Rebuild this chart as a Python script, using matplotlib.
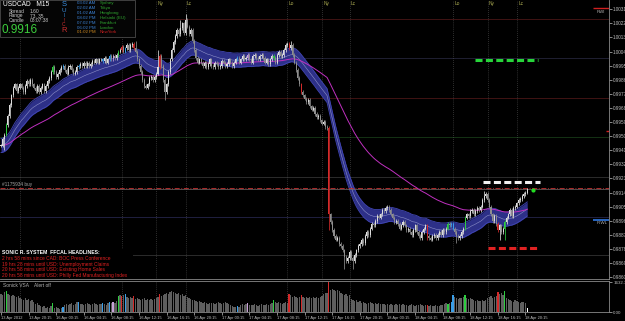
import numpy as np
import pandas as pd
import matplotlib
matplotlib.use("Agg")
import matplotlib.pyplot as plt
from matplotlib.patches import Rectangle

plt.rcParams['font.family'] = ['Liberation Sans', 'DejaVu Sans']

# USDCAD M15 closes, in 1e-4 price units, one per bar
close_x1e4 = [
    9944, 9948, 9951,
    9957, 9963, 9970, 9976, 9981,
    9983, 9979, 9981, 9983,
    9981, 9978, 9982, 9985, 9983, 9986, 9983, 9981,
    9979, 9982, 9978, 9981, 9983, 9979, 9982, 9985,
    9987, 9991, 9994,
    9991, 9988, 9990, 9992,
    9994, 9995, 9992, 9990, 9994, 9995, 9992, 9990, 9991, 9994, 9995, 9996,
    9995, 9997, 9995, 9997, 9995, 9996, 9998, 9997, 9999, 9997, 9999,
    9999, 9998, 10000, 9997, 9999, 10001, 9999, 10001, 10000, 10002, 10004,
    10005, 10007, 10004, 10006, 10008, 10005, 10008, 10009, 10006, 10004,
    9999, 9995, 9991, 9986, 9982, 9981, 9983,
    9987, 9988, 9986, 9988, 9990,
    9994, 10001, 9995, 9986, 9978, 9983,
    9991, 9999, 10005, 10010,
    10014, 10018, 10015, 10019, 10022, 10016, 10024, 10020, 10015, 10018,
    10011, 10005, 10000, 9997, 9999,
    9997, 9995, 9997, 9994, 9996, 9999, 9995, 9994, 9997, 9996,
    9994, 9995, 9998, 9997, 9995, 9996, 9999, 9997, 9995, 9997,
    9999, 10000, 9997, 9999, 10001, 9999, 10000, 10002, 9999, 9997,
    10001, 10002, 10000, 9999, 10001, 10002, 10000, 9997, 9999,
    9996, 9999, 10001, 10000, 9997, 10002, 10004, 10001, 10002,
    10005, 10008, 10009, 10006, 10008,
    10002, 9997, 9992, 9987, 9983, 9978, 9976,
    9974, 9972, 9973, 9969, 9967, 9968, 9964, 9962, 9963, 9960, 9958, 9959, 9956, 9955,
    9900,
    9895, 9890, 9886, 9884, 9885, 9881, 9880,
    9877, 9873, 9870, 9872, 9876, 9872, 9870, 9874, 9877,
    9880, 9881, 9884, 9882, 9886, 9889, 9887, 9891, 9894, 9893, 9896, 9899, 9898, 9900,
    9903, 9902, 9904, 9905, 9903,
    9900, 9898, 9895, 9896, 9894, 9891, 9893, 9895, 9893, 9890,
    9891, 9889, 9887, 9890, 9893, 9889, 9886, 9885, 9889, 9891, 9893, 9886,
    9885, 9884, 9886, 9887, 9885, 9887, 9889, 9887, 9890, 9889, 9891, 9894,
    9893, 9894, 9891, 9889, 9886,
    9885, 9886, 9889, 9891, 9898,
    9900, 9899, 9902, 9903, 9900, 9902, 9904, 9903, 9905, 9909,
    9912, 9913, 9909, 9905,
    9900, 9896, 9899, 9894, 9890, 9893, 9889, 9891, 9895, 9898,
    9900, 9903, 9899, 9904,
    9905, 9907, 9909, 9910, 9912, 9913, 9914, 9916,
]

# tick volume per bar
volume = [
    980, 930, 1080, 1130,
    975, 920, 870, 915, 860, 810, 870, 760,
    705, 650, 760, 655, 700, 600, 650, 540,
    430, 490, 380, 325, 270, 330, 215, 270, 220, 325,
    490,
    215, 270, 220, 165, 215,
    280,
    380, 430, 375, 435, 490, 380, 430, 540,
    545, 430,
    430, 380, 435, 490, 430, 380, 435, 485, 430, 380, 430,
    435, 490, 430, 380, 490, 545,
    490, 540, 485, 600,
    870,
    920, 865, 925, 975, 810,
    760, 815, 755, 870,
    705, 760, 700, 650, 705, 760, 650, 700, 650, 705, 645, 700, 760,
    815, 975,
    865, 920, 975, 1030, 980, 1085, 1135, 1080,
    1030, 975, 1025, 920, 970, 865, 915, 810,
    760, 700, 650, 655, 595, 540, 600, 545, 490, 540, 485, 430, 490,
    485, 490, 430, 485, 540, 490, 430, 485, 545, 490, 430, 380, 325, 270,
    270, 330, 275,
    380, 430, 375, 435, 490, 380, 385,
    380, 430, 375, 325, 380, 435, 380, 375, 430, 380, 435, 490,
    650,
    545, 490, 540, 485, 430, 490, 540, 485,
    975, 920,
    810, 870, 815, 760, 815,
    925,
    810, 760, 815, 755, 810, 760, 815, 755, 810, 760, 815, 870,
    975, 1030, 1025,
    1632,
    1190, 1245, 1185, 1135, 1190, 1130,
    1030, 975, 920, 980, 865, 920,
    705, 650, 595, 650, 540, 595,
    485, 540, 490, 430, 485, 545, 490, 430, 485, 435, 490, 430, 435,
    430, 380, 435, 375, 430, 380, 375, 435, 380, 430, 375, 435, 380,
    375, 325, 380, 430, 375, 325, 380, 375, 430, 380, 325, 380, 380,
    325, 380, 325, 330, 375, 325, 330, 380, 375,
    430, 490, 435,
    490, 545, 920,
    810, 760, 705, 755, 760,
    810, 920,
    760, 705, 755, 700,
    650, 595, 650, 600, 595, 650, 600, 655,
    760, 810, 865, 760, 815, 870,
    1080,
    975, 1030,
    920,
    1135,
    760, 705, 650, 595, 540, 650, 595, 540, 485,
    540, 545, 490,
    215,
]
assert len(close_x1e4) == 306 and len(volume) == 306

# long wicks (bar index -> price x1e4)
spike_hi = {78: 10011, 91: 10005, 104: 10024, 107: 10028, 168: 10011, 280: 9915}
spike_lo = {2: 9941, 95: 9973, 190: 9890, 199: 9865, 204: 9865, 247: 9884,
            264: 9882, 289: 9884, 292: 9884}

# VSA signal bars
sig_green = [3, 30, 68, 158, 259, 269, 292]
sig_red = [70, 77, 92, 167, 174, 190, 247, 288]
sig_blue = [36, 45, 59, 63, 72, 137, 261, 262]
sig_pink = [65, 143]

price_ticks = [1.00310, 1.00220, 1.00130, 1.00040, 0.99950, 0.99860, 0.99770,
               0.99680, 0.99590, 0.99500, 0.99410, 0.99320, 0.99230, 0.99140,
               0.99050, 0.98960, 0.98870, 0.98780, 0.98690, 0.98600]

time_bars = [0, 16, 32, 48, 64, 80, 96, 112, 128, 144, 160, 176, 192, 208,
             224, 240, 256, 272, 288, 304]
time_labels = ["13 Apr 2012", "13 Apr 20:15", "16 Apr 00:15", "16 Apr 04:15",
               "16 Apr 08:15", "16 Apr 12:15", "16 Apr 16:15", "16 Apr 20:15",
               "17 Apr 00:15", "17 Apr 04:15", "17 Apr 08:15", "17 Apr 12:15",
               "17 Apr 16:15", "17 Apr 20:15", "18 Apr 00:15", "18 Apr 04:15",
               "18 Apr 08:15", "18 Apr 12:15", "18 Apr 16:15", "18 Apr 20:15"]

# session lines; the first two labels sit under the info box and are not shown
session_bars = [11, 70, 90, 107, 166, 186, 202, 262, 282, 299]
session_names = [None, None, "Ny", "Lc", "Lo", "Ny", "Lc", "Lo", "Ny", "Lc"]

levels = [1.00248, 0.99999, 0.99744, 0.99495, 0.99239, 0.98984, 0.98741]
level_colors = ["#4a1616", "#24243a", "#4a1616", "#173a17", "#333333", "#24244a", "#333333"]

order_price = 0.99169
bid_price = 0.99160
tp_green, tp_white, sl_red = 0.99986, 0.99209, 0.98786

headlines = ["2 hrs 58 mins since CAD: BOC Press Conference",
             "19 hrs 28 mins until USD: Unemployment Claims",
             "20 hrs 58 mins until USD: Existing Home Sales",
             "20 hrs 58 mins until USD: Philly Fed Manufacturing Index"]

cities = ["Sydney", "Tokyo", "Hongkong", "Helsinki (EU)", "Frankfurt", "London", "NewYork"]
city_times = ["03:02 AM", "02:02 AM", "01:02 AM", "08:02 PM", "07:02 PM", "06:02 PM", "01:02 PM"]

closes = np.array(close_x1e4) / 1e4
idx = np.arange(len(closes))
opens = np.r_[closes[0], closes[:-1]]
hi = np.maximum(opens, closes) + 0.00012
lo = np.minimum(opens, closes) - 0.00012
for k, v in spike_hi.items():
    hi[k] = v / 1e4
for k, v in spike_lo.items():
    lo[k] = v / 1e4

cols = np.where(closes >= opens, "#dcdcdc", "#8e8e8e").astype(object)
vcols = np.array(["#5e5e5e"] * len(idx), dtype=object)
for lst, c in [(sig_green, "#2ecc40"), (sig_red, "#d42a2a"),
               (sig_blue, "#3a9ee8"), (sig_pink, "#c8a0d8")]:
    for k in lst:
        cols[k] = c
        vcols[k] = c
vcols[305] = "#ffffff"

fig = plt.figure(figsize=(6.25, 3.21), dpi=100, facecolor="black")

ax = fig.add_axes([0, 42 / 321, 609 / 625, 279 / 321], facecolor="black")
ax.set_xlim(-0.58, 352.4)
ax.set_ylim(0.985878, 1.003694)

for lv, lc in zip(levels, level_colors):
    ax.axhline(lv, color=lc, lw=0.6, zorder=1)

for b in session_bars:
    ax.axvline(b, color="#5a5a5a", lw=0.5, ls=(0, (1, 2)), zorder=1)
for b, n in zip(session_bars, session_names):
    if n:
        ax.text(b + 0.8, 0.987, n, transform=ax.get_xaxis_transform(), color="#a8a850",
                fontsize=3.5, va="center", ha="left")

center = pd.Series(closes).ewm(span=30, adjust=False).mean().values
slow = pd.Series(closes).ewm(span=80, adjust=False).mean().values
hw = 0.00045
ax.fill_between(idx, center - hw, center + hw, color="#2d3088", zorder=2, lw=0)
ax.plot(idx, center + hw, color="#4146b4", lw=0.6, zorder=2)
ax.plot(idx, center - hw, color="#4146b4", lw=0.6, zorder=2)
ax.plot(idx, center, color="#8d90c8", lw=0.4, zorder=2)
ax.plot(idx, slow, color="#c030c0", lw=0.7, zorder=2.5)

ax.vlines(idx, lo, hi, colors=list(cols), lw=0.55, zorder=3)
body = np.maximum(np.abs(closes - opens), 0.00003)
ax.bar(idx, body, bottom=np.minimum(opens, closes), width=0.6, color=list(cols), zorder=3, lw=0)

ax.axhline(bid_price, color="#7a6a6a", lw=0.5, zorder=2)
ax.axhline(order_price, color="#c83232", lw=0.6, ls=(0, (6, 2, 1, 2)), zorder=2)
ax.text(0.5, order_price + 0.00005, "#1175934 buy", color="#a0a0a0", fontsize=3.4,
        va="bottom", ha="left")

ax.hlines(tp_green, 275, 311, color="#27d43a", lw=2.2, ls=(0, (2.3, 1.1)), zorder=4)
ax.hlines(tp_white, 279.5, 312.5, color="#f0f0f0", lw=2.2, ls=(0, (2.3, 1.1)), zorder=4)
ax.hlines(sl_red, 282.5, 311.5, color="#e02222", lw=2.2, ls=(0, (2.3, 1.1)), zorder=4)
ax.plot(308.4, 0.99156, "o", ms=2, color="#22dd22", zorder=5)

ax.hlines(1.00318, 343.2, 352.4, color="#d02020", lw=1, zorder=4)
ax.text(345, 1.00305, "RWI", color="#b0b0b0", fontsize=3.2, va="top", ha="left")
ax.hlines(0.98965, 343.2, 352.4, color="#2f78e0", lw=1.2, zorder=4)
ax.text(345, 0.98955, "R.WL", color="#b0b0b0", fontsize=3.2, va="top", ha="left")
ax.hlines(0.99533, 350.8, 352.4, color="#d02020", lw=1, zorder=4)

ax.yaxis.tick_right()
ax.set_yticks(price_ticks)
ax.set_yticklabels(["%.5f" % t for t in price_ticks])
ax.tick_params(axis="y", colors="#c0c0c0", labelsize=3.3, length=2, width=0.5, pad=1)
ax.set_xticks([])
for s in ["top", "left"]:
    ax.spines[s].set_visible(False)
for s in ["right", "bottom"]:
    ax.spines[s].set_color("#8a8a8a")
    ax.spines[s].set_linewidth(0.6)

vax = fig.add_axes([0, 9 / 321, 609 / 625, 31 / 321], facecolor="black")
vax.set_xlim(-0.58, 352.4)
vax.set_ylim(0, 1690)
for b in session_bars:
    vax.axvline(b, color="#5a5a5a", lw=0.5, ls=(0, (1, 2)), zorder=1)
vax.bar(idx, volume, width=0.75, color=list(vcols), lw=0, zorder=2)
vax.text(0.005, 0.86, "Sonick VSA    Alert off", transform=vax.transAxes,
         color="#b0b0b0", fontsize=3.5, va="center")
vax.yaxis.tick_right()
vax.set_yticks([0, 1632.31])
vax.set_yticklabels(["0.00", "1632.31"])
vax.tick_params(axis="y", colors="#c0c0c0", labelsize=3.2, length=2, width=0.5, pad=1)
vax.set_xticks(time_bars)
vax.set_xticklabels(time_labels, ha="left")
vax.tick_params(axis="x", colors="#c0c0c0", labelsize=2.9, length=2, width=0.5, pad=1)
for s in ["left"]:
    vax.spines[s].set_visible(False)
for s in ["right", "bottom", "top"]:
    vax.spines[s].set_color("#8a8a8a")
    vax.spines[s].set_linewidth(0.6)

# overlay in pixel coordinates for the info panels
ov = fig.add_axes([0, 0, 1, 1], facecolor="none")
ov.set_xlim(0, 625)
ov.set_ylim(321, 0)
ov.axis("off")
ov.set_zorder(10)

ov.add_patch(Rectangle((0, 0), 135, 37, facecolor="#050505", edgecolor="#4a4a4a", lw=0.6))
ov.text(3, 4.3, "USDCAD   M15", color="white", fontsize=4.8, va="center")
for yy, a, b in [(11.2, "Spread", "1.60"), (15.6, "Range", "73, 35"), (20, "Candle", "08:07:38")]:
    ov.text(9, yy, a, color="#c8c8c8", fontsize=3.5, va="center")
    ov.text(30, yy, b, color="#c8c8c8", fontsize=3.5, va="center")
ov.text(2, 30, "0.9916", color="#3ccf3c", fontsize=8.5, va="center")
for yy, t, c, fs in [(4.5, "S", "#3b8fe0", 5.5), (10.5, "U", "#3b8fe0", 4.5),
                     (15.5, "I", "#3b8fe0", 3.5), (20, "!", "#d03030", 3.5),
                     (24.5, "C", "#d03030", 3.5), (30.5, "R", "#d03030", 5.5)]:
    ov.text(64, yy, t, color=c, fontsize=fs, va="center", ha="center")
for k, (tm, ct) in enumerate(zip(city_times, cities)):
    yy = 3.3 + 4.85 * k
    tc = "#3a7fd0" if k < 6 else "#d08a20"
    cc = "#2fa52f" if k < 6 else "#d02020"
    ov.text(77, yy, tm, color=tc, fontsize=3.2, va="center")
    ov.text(100, yy, ct, color=cc, fontsize=3.2, va="center")

ov.add_patch(Rectangle((0, 249), 133, 29, facecolor="black", edgecolor="none"))
ov.text(2, 253, "SONIC R. SYSTEM  FFCAL HEADLINES:", color="white", fontsize=3.7,
        va="center", fontweight="bold")
for k, h in enumerate(headlines):
    ov.text(2, 259 + 5.5 * k, h, color="#e02020", fontsize=3.5, va="center")

fig.savefig("out.png", dpi=100, facecolor="black")
